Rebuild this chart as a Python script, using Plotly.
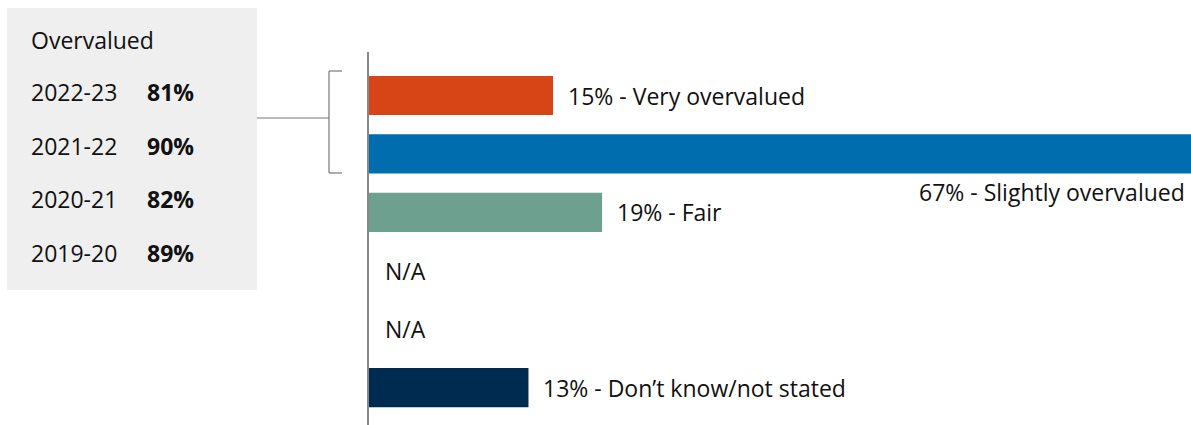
"""Overvalued survey chart: horizontal bars with a summary box on the left"""
import plotly.graph_objects as go

# data
categories = [
    "Very overvalued",
    "Slightly overvalued",
    "Fair",
    "Slightly undervalued",
    "Very undervalued",
    "Don\u2019t know/not stated",
]
shares = [15, 67, 19, None, None, 13]
bar_colors = ["#D74516", "#006EAE", "#6DA08F", "#FFFFFF", "#FFFFFF", "#002B50"]

years = ["2022-23", "2021-22", "2020-21", "2019-20"]
overvalued = [81, 90, 82, 89]

W, H = 1191, 425
L, T = 369, 52
FONT = "Open Sans"
SIZE = 23


def px(x):
    """pixel x -> paper x"""
    return (x - L) / (W - L)


def py(y):
    """pixel y -> paper y"""
    return (H - y) / (H - T)


fig = go.Figure(
    go.Bar(
        y=categories,
        x=[v if v is not None else 0 for v in shares],
        orientation="h",
        marker=dict(color=bar_colors, line_width=0),
        width=0.67,
        hoverinfo="skip",
    )
)

annotations = []
top = max(v for v in shares if v is not None)
for cat, v in zip(categories, shares):
    if v is None:
        annotations.append(dict(x=0, y=cat, text="N/A", xanchor="left", xshift=14))
    elif v == top:
        annotations.append(
            dict(x=v, y=cat, text=f"{v}% - {cat}", xanchor="right", xshift=-4, yshift=-38)
        )
    else:
        annotations.append(dict(x=v, y=cat, text=f"{v}% - {cat}", xanchor="left", xshift=13))

for a in annotations:
    a.update(xref="x", yref="y", showarrow=False, yanchor="middle",
             font=dict(family=FONT, size=SIZE, color="#111111"))

# summary box text
annotations.append(dict(x=px(29), y=py(40), text="Overvalued", xanchor="left"))
for i, (yr, pct) in enumerate(zip(years, overvalued)):
    yy = py(92 + i * 53.5)
    annotations.append(dict(x=px(29), y=yy, text=yr, xanchor="left"))
    annotations.append(dict(x=px(145), y=yy, text=f"<b>{pct}%</b>", xanchor="left"))
for a in annotations[len(categories):]:
    a.update(xref="paper", yref="paper", showarrow=False, yanchor="middle",
             font=dict(family=FONT, size=SIZE, color="#111111"))

line = dict(color="#777777", width=1.2)
shapes = [
    dict(type="rect", xref="paper", yref="paper", x0=px(7), x1=px(257), y0=py(8), y1=py(290),
         fillcolor="#EFEFEF", line_width=0, layer="below"),
    # bracket
    dict(type="line", xref="paper", yref="paper", x0=px(257), x1=px(329), y0=py(118), y1=py(118), line=line),
    dict(type="line", xref="paper", yref="paper", x0=px(329), x1=px(329), y0=py(71), y1=py(173), line=line),
    dict(type="line", xref="paper", yref="paper", x0=px(329), x1=px(342), y0=py(71), y1=py(71), line=line),
    dict(type="line", xref="paper", yref="paper", x0=px(329), x1=px(342), y0=py(173), y1=py(173), line=line),
]

fig.update_layout(
    width=W,
    height=H,
    margin=dict(l=L, r=0, t=T, b=0),
    paper_bgcolor="white",
    plot_bgcolor="white",
    showlegend=False,
    annotations=annotations,
    shapes=shapes,
    font=dict(family=FONT, size=SIZE, color="#111111"),
)
fig.update_xaxes(range=[0, top], visible=False, fixedrange=True)
fig.update_yaxes(
    type="category",
    range=[5.64, -0.745],
    showticklabels=False,
    showgrid=False,
    zeroline=False,
    showline=True,
    linecolor="#888888",
    linewidth=1.5,
    ticks="",
    fixedrange=True,
)

fig.write_html(
    "out.html",
    config={"displayModeBar": False},
    post_script="document.body.style.margin='0';",
)
